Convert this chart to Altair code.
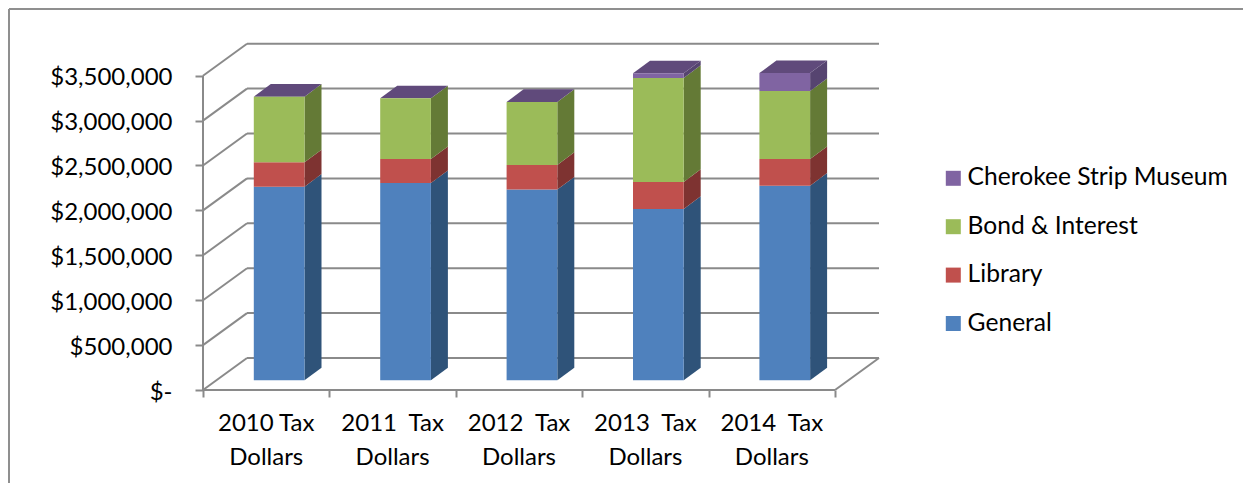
import altair as alt
import pandas as pd

years = ["2010", "2011", "2012", "2013", "2014"]
axis_labels = ["2010 Tax\nDollars", "2011\u00a0\u00a0Tax\nDollars", "2012\u00a0\u00a0Tax\nDollars",
               "2013\u00a0\u00a0Tax\nDollars", "2014\u00a0\u00a0Tax\nDollars"]
general = [2156000, 2197000, 2125000, 1908000, 2167000]
library = [272000, 267000, 273000, 301000, 297000]
bond = [730000, 676000, 702000, 1158000, 757000]
museum = [0, 0, 0, 52000, 200000]

series_names = ["General", "Library", "Bond & Interest", "Cherokee Strip Museum"]
series_values = [general, library, bond, museum]
front_colors = ["#4f81bd", "#c0504d", "#9bbb59", "#8064a2"]
side_colors = ["#2f5379", "#7e3331", "#647a36", "#564470"]
top_color = "#604a7b"
legend_order = series_names[::-1]
legend_colors = front_colors[::-1]
y_ticks = [0, 500000, 1000000, 1500000, 2000000, 2500000, 3000000, 3500000]

PW, PH = 677, 346
PX_PER_CAT = 126.4
PX_PER_USD = 44.9 / 500000
X_MAX = PW / PX_PER_CAT
Y_MAX = PH / PX_PER_USD
WALL_DX, WALL_DY = 44 / PX_PER_CAT, 32 / PX_PER_USD
BAR_LEFT, BAR_W = 50.8 / PX_PER_CAT, 50.7 / PX_PER_CAT
BAR_DX, BAR_DY = 17 / PX_PER_CAT, 12.6 / PX_PER_USD
BASE = 9.7 / PX_PER_USD

front, side, top = [], [], []
for i, yr in enumerate(years):
    x0 = i + BAR_LEFT
    x1 = x0 + BAR_W
    cum = BASE
    for name, vals, fc, sc in zip(series_names, series_values, front_colors, side_colors):
        lo, hi = cum, cum + vals[i]
        cum = hi
        front.append(dict(series=name, x=x0, x2=x1, y=lo, y2=hi))
        g = yr + name
        side.append(dict(g=g, c=sc, x=x1, y=lo, y2=hi))
        side.append(dict(g=g, c=sc, x=x1 + BAR_DX, y=lo + BAR_DY, y2=hi + BAR_DY))
    t = cum
    top += [dict(g=yr, x=x0, y=t, y2=t),
            dict(g=yr, x=x0 + BAR_DX, y=t, y2=t + BAR_DY),
            dict(g=yr, x=x1, y=t, y2=t + BAR_DY),
            dict(g=yr, x=x1 + BAR_DX, y=t + BAR_DY, y2=t + BAR_DY)]

lines = [dict(x=0, x2=0, y=0, y2=y_ticks[-1]), dict(x=0, x2=5, y=0, y2=0),
         dict(x=5, x2=5 + WALL_DX, y=0, y2=WALL_DY)]
for v in y_ticks:
    lines.append(dict(x=0, x2=WALL_DX, y=v, y2=v + WALL_DY))
    lines.append(dict(x=WALL_DX, x2=5 + WALL_DX, y=v + WALL_DY, y2=v + WALL_DY))

x_scale = alt.Scale(domain=[0, X_MAX], nice=False, zero=False)
y_scale = alt.Scale(domain=[0, Y_MAX], nice=False, zero=False)
GRID = "#8a8a8a"
FONT = "Lato"
FS = 24

x_axis = alt.Axis(values=list(range(6)), labels=False, title=None, domain=False, grid=False,
                  tickColor=GRID, tickSize=7, tickWidth=2)
y_axis = alt.Axis(values=y_ticks, title=None, domain=False, grid=False,
                  tickColor=GRID, tickSize=8, tickWidth=2, labelPadding=23, labelOffset=2,
                  labelFont=FONT, labelFontSize=FS, labelColor="#000000",
                  labelExpr="datum.value === 0 ? '$-' : '$' + format(datum.value, ',.0f')")
x_enc = alt.X("x:Q", scale=x_scale, axis=x_axis)
y_enc = alt.Y("y:Q", scale=y_scale, axis=y_axis, stack=None)

grid = alt.Chart(pd.DataFrame(lines)).mark_rule(color=GRID, strokeWidth=2).encode(
    x=x_enc, x2="x2:Q", y=y_enc, y2="y2:Q")

sides = alt.Chart(pd.DataFrame(side)).mark_area(strokeWidth=0, line=False).encode(
    x=x_enc, y=y_enc, y2="y2:Q",
    detail="g:N", color=alt.Color("c:N", scale=None, legend=None))

tops = alt.Chart(pd.DataFrame(top)).mark_area(color=top_color, strokeWidth=0).encode(
    x=x_enc, y=y_enc, y2="y2:Q", detail="g:N")

fronts = alt.Chart(pd.DataFrame(front)).mark_rect(strokeWidth=0).encode(
    x=x_enc, x2="x2:Q", y=y_enc, y2="y2:Q",
    color=alt.Color("series:N", scale=alt.Scale(domain=legend_order, range=legend_colors),
                    legend=alt.Legend(orient="none", legendX=738, legendY=122, title=None,
                                      symbolType="square", symbolSize=225, symbolStrokeWidth=0,
                                      symbolOpacity=1, labelFont=FONT, labelFontSize=24.6,
                                      labelColor="#000000", labelOffset=2, rowPadding=23.4,
                                      labelLimit=400)))

labels = alt.Chart(pd.DataFrame(dict(x=[i + 0.5 for i in range(5)], label=axis_labels))).mark_text(
    font=FONT, fontSize=FS, color="#000000", lineBreak="\n", lineHeight=34, baseline="top", align="center"
).encode(x=x_enc, y=alt.value(368), text="label:N")

frame = alt.Chart(pd.DataFrame(dict(a=[0]))).mark_rule(color="#8f8f8f", strokeWidth=2).encode(
    x=alt.value(-194), x2=alt.value(1100), y=alt.value(-35))
frame2 = alt.Chart(pd.DataFrame(dict(a=[0]))).mark_rule(color="#8f8f8f", strokeWidth=2).encode(
    x=alt.value(-194), y=alt.value(-35), y2=alt.value(500))

chart = alt.layer(frame, frame2, grid, sides, tops, fronts, labels).resolve_scale(color="independent").properties(
    width=PW, height=PH,
    autosize=alt.AutoSizeParams(type="none"),
    padding={"left": 195, "top": 36, "right": 363, "bottom": 93},
    background="#ffffff",
).configure_view(stroke=None)

chart.save("out.html", embed_options={"renderer": "svg", "actions": False})
